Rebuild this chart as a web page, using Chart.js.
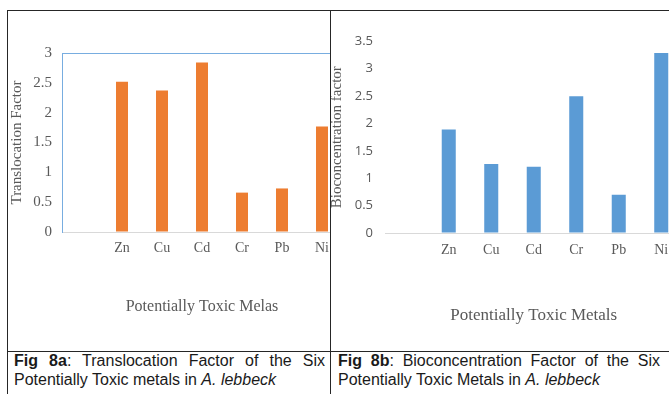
<!DOCTYPE html>
<html>
<head>
<meta charset="utf-8">
<script src="https://cdn.jsdelivr.net/npm/chart.js@4/dist/chart.umd.min.js"></script>
<style>
  html, body { margin: 0; padding: 0; background: #fff; width: 669px; height: 394px; overflow: hidden; position: relative; }
  .rule { position: absolute; background: #262626; }
  .cell { position: absolute; overflow: hidden; }
  .cell canvas { position: absolute; }
  .cap { position: absolute; font-family: "Liberation Sans", Arial, sans-serif; font-size: 16px; line-height: 18.5px; text-align: justify; color: #1a1a1a; }
</style>
</head>
<body>
<!-- table frame -->
<div class="rule" style="left:7px;top:10px;width:662px;height:1px"></div>
<div class="rule" style="left:7px;top:10px;width:1px;height:384px"></div>
<div class="rule" style="left:330px;top:10px;width:1px;height:384px"></div>
<div class="rule" style="left:7px;top:351px;width:662px;height:1px"></div>

<div class="cell" style="left:8px;top:11px;width:322px;height:340px">
  <canvas id="tf" width="360" height="351" style="left:-8px;top:-11px"></canvas>
</div>
<div class="cell" style="left:331px;top:11px;width:338px;height:340px">
  <canvas id="bcf" width="370" height="351" style="left:-11px;top:-11px"></canvas>
</div>

<div class="cap" style="left:14px;top:352px;width:311px"><b>Fig 8a</b>: Translocation Factor of the Six Potentially Toxic metals in <i>A. lebbeck</i></div>
<div class="cap" style="left:338px;top:352px;width:322px"><b>Fig 8b</b>: Bioconcentration Factor of the Six Potentially Toxic Metals in <i>A. lebbeck</i></div>

<script>
// Metals measured in A. lebbeck
const metals = ['Zn', 'Cu', 'Cd', 'Cr', 'Pb', 'Ni'];
// Translocation factor (shoot / root)
const translocationFactor = [2.52, 2.37, 2.84, 0.66, 0.73, 1.77];
// Bioconcentration factor (plant / soil)
const bioconcentrationFactor = [1.89, 1.26, 1.21, 2.50, 0.70, 3.29];
// Value-axis tick labels
const tfTicks = [0, 0.5, 1, 1.5, 2, 2.5, 3];
const bcfTicks = [0, 0.5, 1, 1.5, 2, 2.5, 3, 3.5];

const SERIF = '"Liberation Serif", "Times New Roman", serif';
const GREY = '#595959';

// The worksheet range starts with an empty row, which leaves a blank slot before Zn
const labels = [''].concat(metals);

function makeChart(id, o) {
  return new Chart(document.getElementById(id), {
    type: 'bar',
    data: {
      labels: labels,
      datasets: [{
        data: [null].concat(o.values),
        backgroundColor: o.color,
        borderWidth: 0,
        categoryPercentage: 1,
        barPercentage: o.barPct
      }]
    },
    options: {
      responsive: false,
      animation: false,
      devicePixelRatio: 1,
      layout: { padding: { top: o.padTop, right: o.padRight, left: 0, bottom: 0 } },
      plugins: { legend: { display: false }, tooltip: { enabled: false } },
      scales: {
        x: {
          grid: { display: false, drawTicks: false },
          border: { display: true, color: '#d9d9d9', width: 1 },
          ticks: { color: GREY, font: { family: SERIF, size: 14 }, padding: o.xTickPad, autoSkip: false, maxRotation: 0 },
          title: { display: true, text: o.xTitle, color: GREY, font: { family: SERIF, size: o.xTitleSize }, padding: { top: 0, bottom: o.xTitlePad } },
          afterFit: s => { s.height = o.xHeight; }
        },
        y: {
          min: 0,
          max: o.ticks[o.ticks.length - 1],
          afterBuildTicks: s => { s.ticks = o.ticks.map(v => ({ value: v })); },
          grid: {
            display: true,
            drawTicks: false,
            color: c => (o.frame && c.tick && c.tick.value === o.ticks[o.ticks.length - 1]) ? o.frame : 'rgba(0,0,0,0)'
          },
          border: { display: !!o.frame, color: o.frame || 'rgba(0,0,0,0)', width: 1 },
          ticks: { color: GREY, font: o.yTickFont, padding: o.yTickPad, callback: v => String(v) },
          title: { display: true, text: o.yTitle, color: GREY, font: { family: SERIF, size: o.yTitleSize }, padding: { top: o.yTitlePad, bottom: 0 } },
          afterFit: s => { s.width = o.yWidth; }
        }
      }
    }
  });
}

makeChart('tf', {
  values: translocationFactor,
  ticks: tfTicks,
  color: '#ed7d31',
  barPct: 0.3,
  frame: '#78ade0',
  padTop: 53, padRight: 18,
  yWidth: 62, xHeight: 119,
  xTickPad: 7.6,
  xTitle: 'Potentially Toxic Melas', xTitleSize: 16, xTitlePad: 34.4,
  yTitle: 'Translocation Factor', yTitleSize: 15, yTitlePad: 8,
  yTickFont: { family: SERIF, size: 15 }, yTickPad: 10
});

makeChart('bcf', {
  values: bioconcentrationFactor,
  ticks: bcfTicks,
  color: '#5b9bd5',
  barPct: 0.33,
  frame: null,
  padTop: 41.4, padRight: 7.5,
  yWidth: 65, xHeight: 118,
  xTickPad: 8.6,
  xTitle: 'Potentially Toxic Metals', xTitleSize: 17, xTitlePad: 24.8,
  yTitle: 'Bioconcentration factor', yTitleSize: 15, yTitlePad: 8,
  yTickFont: { family: '"Open Sans", sans-serif', size: 13 }, yTickPad: 12
});
</script>
</body>
</html>
